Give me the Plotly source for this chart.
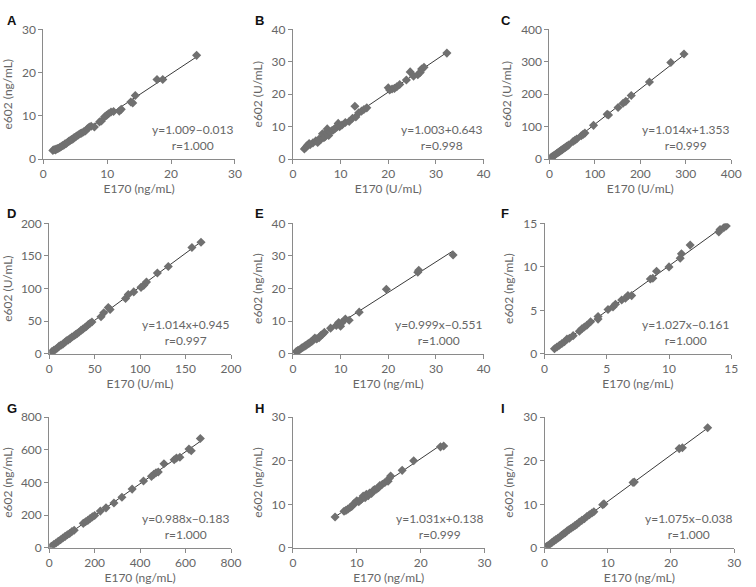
import numpy as np
import plotly.graph_objects as go

# ---------------- data ----------------
panel_labels = ["A", "B", "C", "D", "E", "F", "G", "H", "I"]
units = ["ng/mL", "U/mL", "U/mL", "U/mL", "ng/mL", "ng/mL", "ng/mL", "ng/mL", "ng/mL"]
axis_max = [30, 40, 400, 200, 40, 15, 800, 30, 30]
axis_dtick = [10, 10, 100, 50, 10, 5, 200, 10, 10]
equations = ["y=1.009−0.013", "y=1.003+0.643", "y=1.014x+1.353",
             "y=1.014x+0.945", "y=0.999x−0.551", "y=1.027x−0.161",
             "y=0.988x−0.183", "y=1.031x+0.138", "y=1.075x−0.038"]
r_values = ["r=1.000", "r=0.998", "r=0.999", "r=0.997", "r=1.000",
            "r=1.000", "r=1.000", "r=0.999", "r=1.000"]

points_A = [(1.5, 2.0), (1.7, 2.2), (1.9, 2.1), (2.0, 2.3), (2.2, 2.4), (2.4, 2.5),
            (2.6, 2.7), (2.8, 2.9), (3.0, 3.1), (3.2, 3.2), (3.4, 3.5), (3.6, 3.6),
            (3.8, 3.9), (4.0, 4.1), (4.2, 4.3), (4.4, 4.5), (4.6, 4.6), (4.8, 4.9),
            (5.0, 5.1), (5.2, 5.3), (5.5, 5.6), (5.8, 5.9), (6.0, 6.0), (6.3, 6.3),
            (6.6, 6.5), (6.9, 7.0), (7.2, 7.4), (7.5, 7.6), (8.0, 7.4), (8.8, 8.6),
            (9.1, 8.8), (9.6, 9.8), (9.9, 10.1), (10.2, 10.5), (10.6, 10.9), (11.0, 11.0),
            (11.9, 11.1), (12.2, 11.5), (13.7, 13.2), (14.0, 13.0), (14.4, 14.7),
            (17.8, 18.4), (18.7, 18.4), (24.0, 24.0)]
points_B = [(2.4, 3.1), (2.7, 3.6), (3.0, 4.2), (3.4, 4.8), (3.6, 4.4), (4.2, 5.0),
            (4.8, 5.6), (5.2, 5.1), (5.5, 6.2), (5.8, 6.0), (6.2, 7.8), (6.5, 6.6),
            (6.8, 7.0), (7.0, 8.2), (7.2, 9.3), (7.5, 7.3), (7.8, 8.4), (8.2, 8.8),
            (8.5, 9.0), (8.8, 9.4), (9.2, 9.8), (9.5, 11.0), (9.8, 10.0), (10.3, 10.5),
            (11.0, 11.3), (11.8, 11.6), (12.5, 12.6), (13.0, 16.3), (13.2, 13.0),
            (13.8, 14.3), (14.4, 14.8), (14.9, 15.3), (15.5, 15.8), (20.0, 22.0),
            (20.3, 21.3), (20.8, 21.6), (21.3, 21.8), (21.8, 22.3), (22.4, 23.0),
            (23.8, 24.4), (24.6, 26.9), (25.3, 25.6), (26.2, 26.0), (26.7, 26.7),
            (27.0, 27.8), (27.5, 28.3), (32.3, 32.7)]
points_C = [(1, 2), (3, 4), (5, 6), (8, 9), (10, 11), (13, 14), (16, 17), (19, 20),
            (22, 23), (25, 26), (28, 29), (31, 32), (35, 36), (38, 39), (42, 43),
            (52, 54), (56, 58), (60, 62), (70, 72), (74, 76), (78, 80), (97, 104),
            (127, 138), (130, 136), (151, 159), (162, 172), (168, 178), (180, 196),
            (220, 238), (267, 298), (296, 324)]
points_D = [(3, 3.5), (5, 5.5), (7, 7), (9, 9), (11, 12), (13, 13.5), (15, 15),
            (17, 17.5), (19, 20), (21, 21.5), (23, 23.5), (25, 26), (27, 27.5),
            (29, 29.5), (31, 31.5), (33, 33.5), (35, 36), (37, 38), (39, 40), (41, 42),
            (43, 45), (45, 47), (47, 49), (57, 57), (60, 63), (65, 71), (67, 68),
            (84, 85), (87, 91), (93, 95), (101, 102), (104, 105), (107, 110),
            (119, 124), (131, 134), (157, 163), (167, 171)]
points_E = [(0.7, 0.7), (1.0, 1.0), (1.3, 1.2), (1.6, 1.5), (1.9, 1.9), (2.2, 2.1),
            (2.5, 2.4), (2.8, 2.7), (3.1, 3.0), (3.4, 3.3), (3.7, 3.6), (4.0, 3.9),
            (4.3, 4.3), (4.6, 4.9), (5.0, 4.6), (5.5, 5.0), (5.8, 5.6), (6.2, 6.0),
            (6.6, 6.6), (7.9, 7.9), (9.1, 8.7), (9.6, 9.6), (10.0, 8.5), (10.2, 9.5),
            (11.0, 10.7), (11.8, 10.3), (13.9, 12.8), (19.6, 19.8), (26.2, 25.0),
            (26.4, 25.6), (33.6, 30.3)]
points_F = [(0.8, 0.6), (1.0, 0.8), (1.2, 1.0), (1.4, 1.2), (1.6, 1.4), (1.8, 1.7),
            (2.0, 1.8), (2.3, 2.1), (2.8, 2.6), (3.0, 2.9), (3.2, 3.1), (3.4, 3.3),
            (3.7, 3.7), (4.3, 4.3), (4.3, 4.0), (5.1, 5.1), (5.5, 5.4), (5.7, 5.7),
            (6.2, 6.2), (6.5, 6.4), (6.7, 6.7), (7.0, 6.7), (8.5, 8.6), (8.7, 8.7),
            (9.0, 9.5), (10.0, 10.0), (10.9, 11.0), (11.0, 11.5), (11.7, 12.5),
            (14.0, 14.0), (14.1, 14.3), (14.4, 14.5), (14.6, 14.7)]
points_G = [(10, 10), (20, 20), (30, 30), (40, 40), (50, 50), (60, 60), (70, 70),
            (80, 80), (90, 88), (100, 100), (110, 108), (150, 150), (160, 160),
            (170, 168), (180, 180), (190, 190), (200, 198), (225, 225), (250, 245),
            (285, 275), (320, 310), (365, 360), (415, 410), (450, 438), (460, 450),
            (470, 460), (480, 465), (505, 515), (550, 540), (560, 550), (575, 555),
            (615, 605), (625, 595), (665, 670)]
points_H = [(6.6, 7.1), (8.0, 8.4), (8.3, 8.6), (8.6, 8.9), (8.9, 9.2), (9.2, 9.5),
            (9.5, 10.1), (9.8, 10.4), (10.0, 10.8), (10.3, 10.6), (10.6, 11.0),
            (10.8, 11.3), (11.0, 11.9), (11.3, 11.5), (11.5, 12.3), (11.8, 12.0),
            (12.0, 12.6), (12.3, 12.5), (12.6, 13.2), (12.8, 13.4), (13.1, 13.5),
            (13.4, 13.8), (13.6, 14.3), (14.0, 14.6), (14.4, 15.0), (14.9, 15.3),
            (15.1, 16.0), (15.3, 16.5), (17.1, 17.8), (18.9, 20.0), (23.1, 23.2),
            (23.6, 23.4)]
points_I = [(0.3, 0.3), (0.6, 0.6), (0.9, 0.9), (1.2, 1.3), (1.5, 1.6), (1.8, 1.9),
            (2.1, 2.2), (2.4, 2.5), (2.7, 2.9), (3.0, 3.2), (3.3, 3.5), (3.6, 3.9),
            (3.9, 4.2), (4.2, 4.5), (4.5, 4.8), (4.8, 5.1), (5.1, 5.4), (5.5, 5.9),
            (5.9, 6.3), (6.3, 6.7), (6.7, 7.2), (7.1, 7.6), (7.5, 8.0), (7.8, 8.3),
            (9.2, 9.9), (9.4, 10.1), (14.0, 15.0), (14.2, 15.1), (21.3, 22.8),
            (21.8, 23.0), (25.8, 27.6)]
all_points = [points_A, points_B, points_C, points_D, points_E,
              points_F, points_G, points_H, points_I]

# ---------------- layout geometry (pixels) ----------------
W, H = 756, 587
col_px = [[(41, 236), (295, 489), (556, 741)],
          [(47, 232), (295, 489), (551, 741)],
          [(47, 232), (295, 490), (551, 744)]]
row_px = [(22, 155), (221, 355), (420, 554)]

TXT = "#666666"
FONT = "Lato, 'Open Sans', sans-serif"

fig = go.Figure()
layout = dict(width=W, height=H, margin=dict(l=0, r=0, t=0, b=0),
              paper_bgcolor="white", plot_bgcolor="white", showlegend=False,
              font=dict(family=FONT, size=12, color=TXT))
annotations = []

for i, pts in enumerate(all_points):
    r, c = divmod(i, 3)
    n = "" if i == 0 else str(i + 1)
    xs = np.array([p[0] for p in pts], dtype=float)
    ys = np.array([p[1] for p in pts], dtype=float)
    slope, inter = np.polyfit(xs, ys, 1)
    lx = np.array([xs.min(), xs.max()])
    ly = slope * lx + inter

    fig.add_trace(go.Scatter(x=lx, y=ly, mode="lines", xaxis="x" + n, yaxis="y" + n,
                             line=dict(color="#3a3a3a", width=1), hoverinfo="skip"))
    fig.add_trace(go.Scatter(x=xs, y=ys, mode="markers", xaxis="x" + n, yaxis="y" + n,
                             marker=dict(symbol="diamond", size=7, color="#707070",
                                         line=dict(width=0))))

    x0, x1 = col_px[r][c]
    y0, y1 = row_px[r]
    common = dict(range=[0, axis_max[i]], dtick=axis_dtick[i], tick0=0,
                  showgrid=False, zeroline=False, showline=True,
                  linecolor="#8a8a8a", linewidth=1, ticks="outside", ticklen=4,
                  tickcolor="#8a8a8a", tickfont=dict(family=FONT, size=12, color=TXT),
                  fixedrange=True)
    layout["xaxis" + n] = dict(common, domain=[x0 / W, x1 / W], anchor="y" + n,
                               title=dict(text=f"E170 ({units[i]})", standoff=1,
                                          font=dict(family=FONT, size=12, color=TXT)))
    layout["yaxis" + n] = dict(common, domain=[1 - y1 / H, 1 - y0 / H], anchor="x" + n,
                               title=dict(text=f"e602 ({units[i]})", standoff=6,
                                          font=dict(family=FONT, size=12, color=TXT)))

    annotations.append(dict(xref=f"x{n} domain", yref=f"y{n} domain", x=1.0, y=0.03,
                            xanchor="right", yanchor="bottom", align="center",
                            showarrow=False, text=f"{equations[i]}<br>{r_values[i]}",
                            font=dict(family=FONT, size=12, color=TXT)))
    label_x = [2, 254, 505][c]
    label_y = [3, 201, 401][r]
    annotations.append(dict(xref="paper", yref="paper", x=label_x / W, y=1 - label_y / H,
                            xanchor="left", yanchor="top", showarrow=False,
                            text=f"<b>{panel_labels[i]}</b>",
                            font=dict(family="Liberation Sans, Arial, sans-serif",
                                      size=13, color="#111111")))

layout["annotations"] = annotations
fig.update_layout(**layout)
fig.write_html("out.html")
